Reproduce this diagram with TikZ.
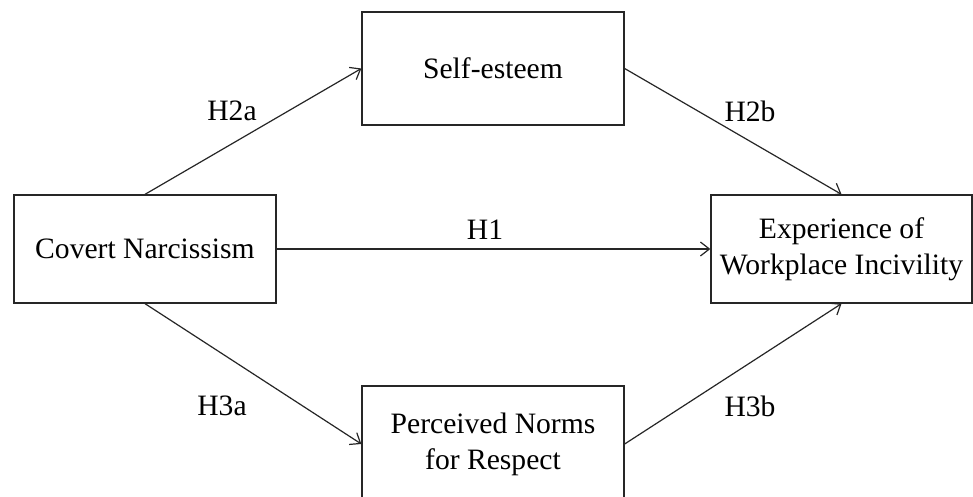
\documentclass[tikz,border=0pt]{standalone}
\usepackage{fontspec}
\setmainfont{Liberation Serif}
\usetikzlibrary{arrows.meta}
\tikzset{
  boxnode/.style={draw=black!85, line width=0.65pt, minimum width=131pt, align=center, inner sep=0pt, font=\fontsize{14.8}{18}\selectfont},
  hyplabel/.style={inner sep=0pt, font=\fontsize{14.8}{18}\selectfont},
  link/.style={draw=black!85, line width=0.6pt, -{Straight Barb[length=4.5pt,width=7pt]}}
}
\begin{document}
\begin{tikzpicture}[x=0.5pt,y=-0.5pt]
\useasboundingbox (0,0) rectangle (973,497);
\fill[white] (0,0) rectangle (973,497);
\node[boxnode, minimum height=54pt] (cov) at (145,249) {Covert Narcissism};
\node[boxnode, minimum height=56.5pt] (self) at (493,68.5) {Self-esteem};
\node[boxnode, minimum width=130.5pt, minimum height=54pt] (exp) at (841.5,249) {Experience of\\Workplace Incivility};
\node[boxnode, minimum height=58pt] (perc) at (493,444) {Perceived Norms\\for Respect};
\draw[link] (cov.north) -- (self.west);
\draw[link] (self.east) -- (exp.north);
\draw[link] (cov.east) -- (exp.west);
\draw[link] (cov.south) -- (perc.west);
\draw[link] (perc.east) -- (exp.south);
\node[hyplabel] (h2a) at (232,111) {H2a};
\node[hyplabel] (h2b) at (750,111) {H2b};
\node[hyplabel] (h1) at (485,230) {H1};
\node[hyplabel] (h3a) at (222,406) {H3a};
\node[hyplabel] (h3b) at (750,406) {H3b};
\end{tikzpicture}
\end{document}
